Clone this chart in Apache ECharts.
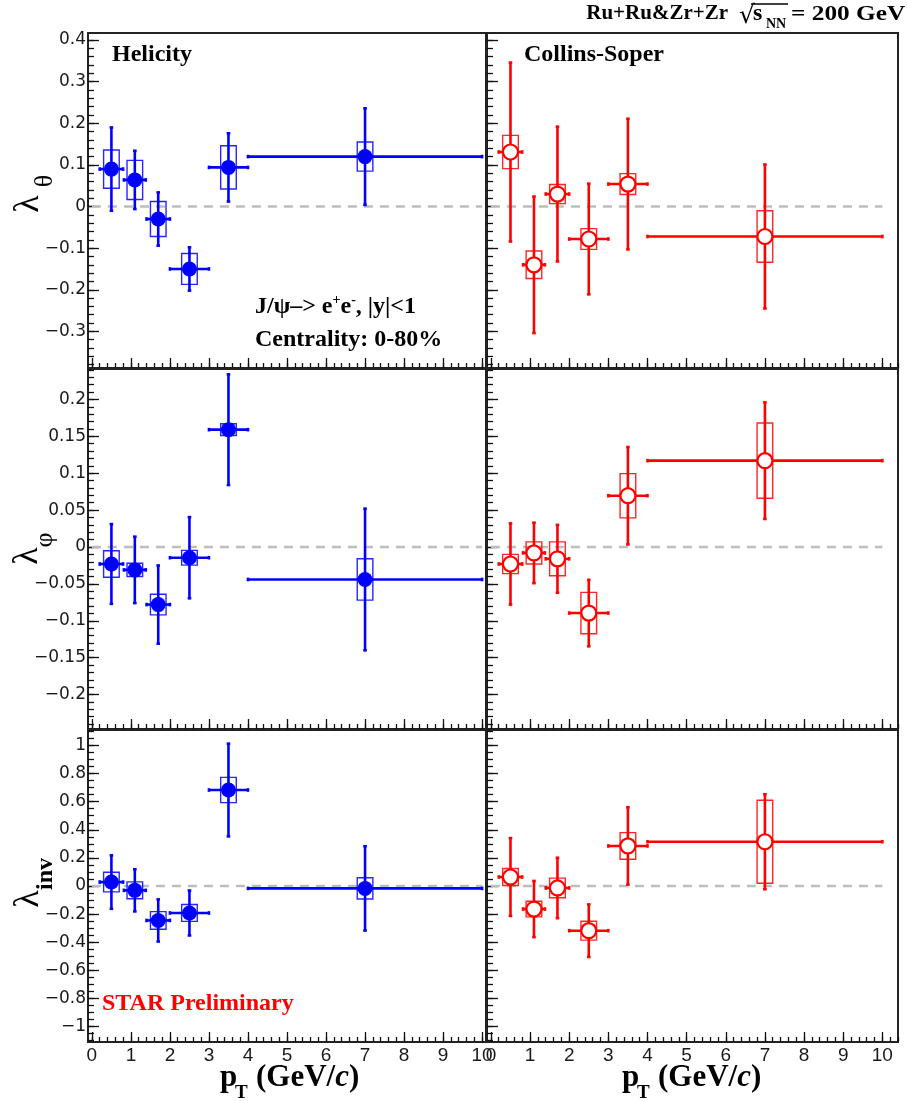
<!DOCTYPE html>
<html>
<head>
<meta charset="utf-8">
<script src="https://cdn.jsdelivr.net/npm/echarts@6/dist/echarts.min.js"></script>
<style>
  html, body { margin: 0; padding: 0; background: #fff; }
  #chart { width: 907px; height: 1101px; }
</style>
</head>
<body>
<div id="chart"></div>
<script>
// pT bins (GeV/c)
const ptCenter = [0.5, 1.1, 1.7, 2.5, 3.5, 7];
const ptHalfWidth = [0.3, 0.28, 0.3, 0.5, 0.5, 3];

// lambda_theta
const thetaHX = [0.09, 0.064, -0.03, -0.15, 0.094, 0.12];
const thetaHXStat = [0.10, 0.07, 0.064, 0.052, 0.082, 0.116];
const thetaHXSys = [0.046, 0.047, 0.042, 0.037, 0.052, 0.035];
const thetaCS = [0.131, -0.14, 0.03, -0.078, 0.054, -0.072];
const thetaCSStat = [0.215, 0.164, 0.162, 0.133, 0.157, 0.173];
const thetaCSSys = [0.04, 0.033, 0.023, 0.025, 0.025, 0.062];

// lambda_phi
const phiHX = [-0.023, -0.031, -0.078, -0.0145, 0.159, -0.044];
const phiHXStat = [0.054, 0.045, 0.053, 0.055, 0.075, 0.096];
const phiHXSys = [0.018, 0.009, 0.014, 0.010, 0.008, 0.028];
const phiCS = [-0.023, -0.008, -0.016, -0.0895, 0.0695, 0.117];
const phiCSStat = [0.055, 0.041, 0.046, 0.045, 0.066, 0.079];
const phiCSSys = [0.013, 0.015, 0.023, 0.028, 0.030, 0.051];

// lambda_inv
const invHX = [0.028, -0.031, -0.245, -0.192, 0.683, -0.017];
const invHXStat = [0.19, 0.15, 0.15, 0.16, 0.33, 0.30];
const invHXSys = [0.07, 0.06, 0.063, 0.06, 0.09, 0.076];
const invCS = [0.064, -0.164, -0.014, -0.318, 0.285, 0.315];
const invCSStat = [0.277, 0.20, 0.215, 0.187, 0.275, 0.338];
const invCSSys = [0.06, 0.056, 0.07, 0.067, 0.095, 0.295];

// tick labels
const thetaTicks = [-0.3, -0.2, -0.1, 0, 0.1, 0.2, 0.3, 0.4];
const phiTicks = [-0.2, -0.15, -0.1, -0.05, 0, 0.05, 0.1, 0.15, 0.2];
const invTicks = [-1, -0.8, -0.6, -0.4, -0.2, 0, 0.2, 0.4, 0.6, 0.8, 1];
const ptTicks = [0, 1, 2, 3, 4, 5, 6, 7, 8, 9, 10];
const zeroLine = [0, 10];

const BLUE = '#0000ff';
const RED = '#ff0000';

// rows: top/height in px, y range, ticks
const rows = [
  { top: 33, height: 335, min: -0.388, max: 0.417, ticks: thetaTicks, minor: 0.02,
    hx: [thetaHX, thetaHXStat, thetaHXSys], cs: [thetaCS, thetaCSStat, thetaCSSys] },
  { top: 369, height: 360, min: -0.2466, max: 0.2412, ticks: phiTicks, minor: 0.01,
    hx: [phiHX, phiHXStat, phiHXSys], cs: [phiCS, phiCSStat, phiCSSys] },
  { top: 730, height: 312, min: -1.11, max: 1.11, ticks: invTicks, minor: 0.05,
    hx: [invHX, invHXStat, invHXSys], cs: [invCS, invCSStat, invCSSys] }
];
const cols = [
  { left: 88, width: 398, min: -0.1, max: 10.1, color: BLUE, open: false },
  { left: 487, width: 411, min: -0.1, max: 10.4, color: RED, open: true }
];

function steps(min, max, step) {
  const out = [];
  for (let v = Math.ceil(min / step - 1e-9) * step; v <= max + 1e-9; v += step) {
    out.push(+v.toFixed(4));
  }
  return out;
}
function fmt(v) {
  return (v < 0 ? '\u2212' : '') + String(Math.abs(v));
}

function errBarItem(color) {
  return function (params, api) {
    const x = api.value(0), y = api.value(1), dx = api.value(2), dy = api.value(3);
    const c = api.coord([x, y]);
    const l = api.coord([x - dx, y]);
    const r = api.coord([x + dx, y]);
    const t = api.coord([x, y + dy]);
    const b = api.coord([x, y - dy]);
    const style = { stroke: color, lineWidth: 2.6 };
    const cap = 1.8;
    return {
      type: 'group',
      children: [
        { type: 'line', shape: { x1: l[0], y1: c[1], x2: r[0], y2: c[1] }, style: style },
        { type: 'line', shape: { x1: c[0], y1: t[1], x2: c[0], y2: b[1] }, style: style },
        { type: 'line', shape: { x1: l[0], y1: c[1] - cap, x2: l[0], y2: c[1] + cap }, style: style },
        { type: 'line', shape: { x1: r[0], y1: c[1] - cap, x2: r[0], y2: c[1] + cap }, style: style },
        { type: 'line', shape: { x1: c[0] - cap, y1: t[1], x2: c[0] + cap, y2: t[1] }, style: style },
        { type: 'line', shape: { x1: c[0] - cap, y1: b[1], x2: c[0] + cap, y2: b[1] }, style: style }
      ]
    };
  };
}
function sysBoxItem(color) {
  return function (params, api) {
    const x = api.value(0), y = api.value(1), s = api.value(4);
    const p1 = api.coord([x - 0.2, y + s]);
    const p2 = api.coord([x + 0.2, y - s]);
    return {
      type: 'rect',
      shape: { x: p1[0], y: p1[1], width: p2[0] - p1[0], height: p2[1] - p1[1] },
      style: { stroke: color, fill: 'none', lineWidth: 1.4, opacity: 0.85 }
    };
  };
}

const grid = [], xAxis = [], yAxis = [], series = [];
rows.forEach((row, ri) => {
  cols.forEach((col, ci) => {
    const g = grid.length;
    grid.push({
      left: col.left, top: row.top, width: col.width, height: row.height,
      show: true, borderColor: '#222', borderWidth: 2, backgroundColor: 'transparent'
    });
    const bottomRow = ri === rows.length - 1;
    const tickLine = { color: '#111', width: 1.3 };
    // x: major + minor
    xAxis.push({
      type: 'value', gridIndex: g, position: 'bottom', min: col.min, max: col.max,
      axisLine: { show: false, onZero: false }, splitLine: { show: false },
      axisTick: { show: true, inside: true, length: 10, customValues: ptTicks, lineStyle: tickLine },
      axisLabel: {
        show: bottomRow, customValues: ptTicks, margin: 4,
        fontFamily: 'Liberation Sans', fontSize: 19, color: '#1a1a1a'
      }
    });
    xAxis.push({
      type: 'value', gridIndex: g, position: 'bottom', min: col.min, max: col.max,
      axisLine: { show: false, onZero: false }, splitLine: { show: false },
      axisTick: { show: true, inside: true, length: 5, customValues: steps(0, col.max, 0.2), lineStyle: tickLine },
      axisLabel: { show: false }
    });
    // y: major + minor
    yAxis.push({
      type: 'value', gridIndex: g, position: 'left', min: row.min, max: row.max,
      axisLine: { show: false, onZero: false }, splitLine: { show: false },
      axisTick: { show: true, inside: true, length: 11, customValues: row.ticks, lineStyle: tickLine },
      axisLabel: {
        show: ci === 0, customValues: row.ticks, margin: 2, formatter: fmt,
        fontFamily: 'DejaVu Sans', fontSize: 17, color: '#1a1a1a'
      }
    });
    yAxis.push({
      type: 'value', gridIndex: g, position: 'left', min: row.min, max: row.max,
      axisLine: { show: false, onZero: false }, splitLine: { show: false },
      axisTick: { show: true, inside: true, length: 6, customValues: steps(row.min, row.max, row.minor), lineStyle: tickLine },
      axisLabel: { show: false }
    });

    const xi = g * 2, yi = g * 2;
    const set = ci === 0 ? row.hx : row.cs;
    const data = ptCenter.map((x, i) => [x, set[0][i], ptHalfWidth[i], set[1][i], set[2][i]]);

    series.push({
      type: 'line', xAxisIndex: xi, yAxisIndex: yi, silent: true, symbol: 'none', z: 1,
      data: zeroLine.map(x => [x, 0]),
      lineStyle: { color: '#bdbdbd', width: 2.5, type: [9, 7] }
    });
    series.push({
      type: 'custom', xAxisIndex: xi, yAxisIndex: yi, silent: true, z: 2,
      renderItem: sysBoxItem(col.color), data: data
    });
    series.push({
      type: 'custom', xAxisIndex: xi, yAxisIndex: yi, silent: true, z: 3,
      renderItem: errBarItem(col.color), data: data
    });
    series.push({
      type: 'scatter', xAxisIndex: xi, yAxisIndex: yi, silent: true, z: 4,
      symbol: 'circle', symbolSize: 15,
      data: data.map(d => [d[0], d[1]]),
      itemStyle: col.open
        ? { color: '#fff', borderColor: col.color, borderWidth: 2.2, opacity: 1 }
        : { color: col.color, opacity: 1 }
    });
  });
});

const serif = 'Liberation Serif';
function txt(x, y, text, size, align, color) {
  return {
    type: 'text', x: x, y: y, silent: true,
    style: {
      text: text, fontFamily: serif, fontWeight: 'bold', fontSize: size,
      fill: color || '#000', textAlign: align || 'left', textVerticalAlign: 'middle'
    }
  };
}
function rot(x, y, text, size, weight) {
  return {
    type: 'text', x: x, y: y, rotation: Math.PI / 2, silent: true,
    style: {
      text: text, fontFamily: serif, fontWeight: weight, fontSize: size,
      fill: '#000', textAlign: 'center', textVerticalAlign: 'middle'
    }
  };
}
function ptTitle(x) {
  return [
    txt(x, 1078, 'p', 31),
    txt(x + 15, 1093, 'T', 19),
    {
      type: 'text', x: x + 36, y: 1078, silent: true,
      style: {
        text: '{a|(GeV/}{i|c}{a|)}',
        textAlign: 'left', textVerticalAlign: 'middle',
        rich: {
          a: { fontFamily: serif, fontWeight: 'bold', fontSize: 31, color: '#000' },
          i: { fontFamily: serif, fontWeight: 'bold', fontStyle: 'italic', fontSize: 31, color: '#000' }
        }
      }
    }
  ];
}

const energyText = txt(791, 14, '= 200 GeV', 22);
energyText.scaleX = 1.15;

const graphic = [
  // header
  txt(728, 14, 'Ru+Ru&Zr+Zr', 21, 'right'),
  {
    type: 'text', x: 739, y: 16, silent: true,
    style: { text: '\u221a', fontFamily: 'DejaVu Serif', fontSize: 25, fill: '#000', textAlign: 'left', textVerticalAlign: 'middle' }
  },
  { type: 'line', silent: true, shape: { x1: 751, y1: 4, x2: 788, y2: 4 }, style: { stroke: '#000', lineWidth: 1.3 } },
  txt(753, 14, 's', 24),
  txt(766, 24, 'NN', 14),
  energyText,
  // panel labels
  txt(112, 55, 'Helicity', 24),
  txt(524, 55, 'Collins-Soper', 24),
  {
    type: 'text', x: 255, y: 306, silent: true,
    style: {
      text: '{a|J/\u03c8\u2013> e}{s|+}{a|e}{s|-}{a|, |y|<1}',
      textAlign: 'left', textVerticalAlign: 'middle',
      rich: {
        a: { fontFamily: serif, fontWeight: 'bold', fontSize: 24, lineHeight: 26, color: '#000', verticalAlign: 'bottom' },
        s: { fontFamily: serif, fontWeight: 'bold', fontSize: 14, lineHeight: 14, color: '#000', verticalAlign: 'top' }
      }
    }
  },
  txt(255, 340, 'Centrality: 0-80%', 24),
  txt(102, 1004, 'STAR Preliminary', 24, 'left', RED),
  // y titles
  rot(29, 204, '\u03bb', 36, 'normal'),
  rot(45, 181, '\u03b8', 26, 'normal'),
  rot(28, 556, '\u03bb', 36, 'normal'),
  rot(45, 540, '\u03c6', 26, 'normal'),
  rot(29, 899, '\u03bb', 36, 'normal'),
  rot(46, 874, 'inv', 24, 'bold')
].concat(ptTitle(220), ptTitle(622));

const chart = echarts.init(document.getElementById('chart'));
chart.setOption({
  animation: false,
  backgroundColor: '#fff',
  grid: grid,
  xAxis: xAxis,
  yAxis: yAxis,
  series: series,
  graphic: graphic
});
</script>
</body>
</html>
